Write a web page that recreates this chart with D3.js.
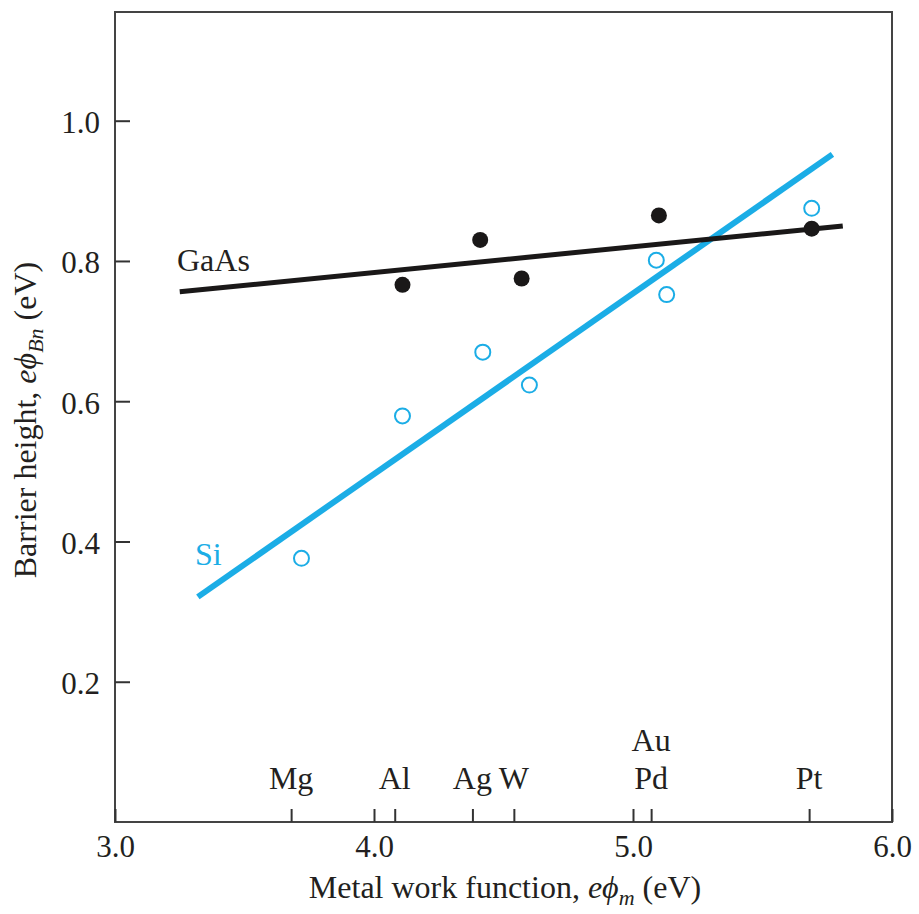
<!DOCTYPE html>
<html>
<head>
<meta charset="utf-8">
<script src="https://cdn.jsdelivr.net/npm/d3@7"></script>
<style>
  body { margin: 0; background: #fff; }
  text { font-family: "Liberation Serif", "DejaVu Serif", serif; fill: #231f20; }
</style>
</head>
<body>
<div id="chart"></div>
<script>
// values
var xTicks = [3.0, 4.0, 5.0, 6.0]
var yTicks = [0.2, 0.4, 0.6, 0.8, 1.0]

var metalNames = ["Mg", "Al", "Ag", "W", "Pd", "Pt"]
var metalPhi = [3.68, 4.08, 4.38, 4.54, 5.07, 5.68]
var extraLabel = "Au"   // stacked above Pd

var gaasPhi = [4.11, 4.41, 4.57, 5.10, 5.69]
var gaasBarrier = [0.766, 0.830, 0.775, 0.865, 0.846]

var siPhi = [3.72, 4.11, 4.42, 4.60, 5.09, 5.13, 5.69]
var siBarrier = [0.376, 0.579, 0.670, 0.623, 0.801, 0.752, 0.875]

var gaasFit = [[3.25, 0.756], [5.81, 0.850]]
var siFit = [[3.32, 0.321], [5.77, 0.952]]

var blue = "#1badE6"
var W = 919, H = 914

var svg = d3.select("#chart").append("svg")
    .attr("width", W)
    .attr("height", H)

var x = d3.scaleLinear().domain([3, 6]).range([115, 892])
var y = d3.scaleLinear().domain([0, 1.155]).range([822, 12])

// frame
svg.append("rect")
    .attr("x", x(3))
    .attr("y", y(1.155))
    .attr("width", x(6) - x(3))
    .attr("height", y(0) - y(1.155))
    .attr("fill", "none")
    .attr("stroke", "#444")
    .attr("stroke-width", 2)

// y axis, ticks pointing inward
var yAxis = svg.append("g")
    .attr("transform", "translate(" + x(3) + ",0)")
    .call(d3.axisLeft(y).tickValues(yTicks).tickSize(-15).tickPadding(15).tickFormat(d3.format(".1f")))
yAxis.select(".domain").remove()
yAxis.selectAll("line").attr("stroke", "#333").attr("stroke-width", 2)
yAxis.selectAll("text").style("font-size", "31px").attr("fill", "#231f20")
    .style("font-family", "Liberation Serif").attr("dy", "0.38em")

// x axis
var xAxis = svg.append("g")
    .attr("transform", "translate(0," + y(0) + ")")
    .call(d3.axisBottom(x).tickValues(xTicks).tickSize(-13).tickPadding(13).tickFormat(d3.format(".1f")))
xAxis.select(".domain").remove()
xAxis.selectAll("line").attr("stroke", "#333").attr("stroke-width", 2)
xAxis.selectAll("text").style("font-size", "31px").attr("fill", "#231f20")
    .style("font-family", "Liberation Serif")

// metal work function ticks
var mAxis = svg.append("g")
    .attr("transform", "translate(0," + y(0) + ")")
    .call(d3.axisBottom(x).tickValues(metalPhi).tickSize(-13).tickFormat(""))
mAxis.select(".domain").remove()
mAxis.selectAll("line").attr("stroke", "#333").attr("stroke-width", 2)

svg.selectAll(".metal")
    .data(metalNames)
    .enter().append("text")
    .attr("class", "metal")
    .attr("x", function(d, i) { return x(metalPhi[i]) })
    .attr("y", 789)
    .attr("text-anchor", "middle")
    .style("font-size", "32px")
    .text(function(d) { return d })

svg.append("text")
    .attr("x", x(metalPhi[metalNames.indexOf("Pd")]))
    .attr("y", 751)
    .attr("text-anchor", "middle")
    .style("font-size", "32px")
    .text(extraLabel)

// fit lines
var line = d3.line().x(function(d) { return x(d[0]) }).y(function(d) { return y(d[1]) })

svg.append("path")
    .attr("d", line(siFit))
    .attr("stroke", blue)
    .attr("stroke-width", 6)
    .attr("fill", "none")

svg.append("path")
    .attr("d", line(gaasFit))
    .attr("stroke", "#1a1818")
    .attr("stroke-width", 5)
    .attr("fill", "none")

// data points
svg.selectAll(".si")
    .data(siPhi)
    .enter().append("circle")
    .attr("class", "si")
    .attr("cx", function(d) { return x(d) })
    .attr("cy", function(d, i) { return y(siBarrier[i]) })
    .attr("r", 7.5)
    .attr("fill", "#fff")
    .attr("stroke", blue)
    .attr("stroke-width", 2)

svg.selectAll(".gaas")
    .data(gaasPhi)
    .enter().append("circle")
    .attr("class", "gaas")
    .attr("cx", function(d) { return x(d) })
    .attr("cy", function(d, i) { return y(gaasBarrier[i]) })
    .attr("r", 8)
    .attr("fill", "#1a1818")

// series labels
svg.append("text")
    .attr("x", 177).attr("y", 271)
    .style("font-size", "32px")
    .text("GaAs")

svg.append("text")
    .attr("x", 195).attr("y", 565)
    .style("font-size", "32px")
    .style("fill", blue)
    .text("Si")

// axis titles
var xt = svg.append("text")
    .attr("x", 505).attr("y", 898)
    .attr("text-anchor", "middle")
    .style("font-size", "32px")
xt.append("tspan").text("Metal work function, ")
xt.append("tspan").style("font-style", "italic").text("e\u03d5")
xt.append("tspan").style("font-style", "italic").style("font-size", "22px").attr("dy", 7).text("m")
xt.append("tspan").attr("dy", -7).text(" (eV)")

var yt = svg.append("text")
    .attr("transform", "translate(36,420) rotate(-90)")
    .attr("text-anchor", "middle")
    .style("font-size", "32px")
yt.append("tspan").text("Barrier height, ")
yt.append("tspan").style("font-style", "italic").text("e\u03d5")
yt.append("tspan").style("font-style", "italic").style("font-size", "22px").attr("dy", 7).text("Bn")
yt.append("tspan").attr("dy", -7).text(" (eV)")
</script>
</body>
</html>
